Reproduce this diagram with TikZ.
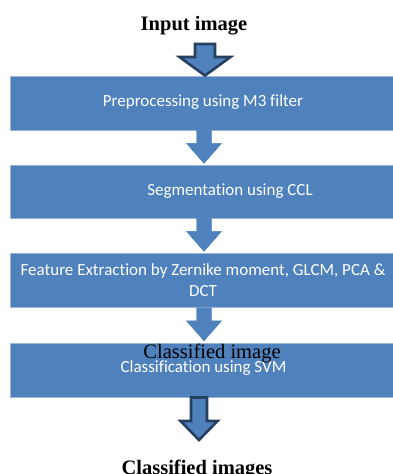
\documentclass[tikz,border=0pt]{standalone}
\usepackage{fontspec}
\setmainfont{Liberation Serif}
\newfontfamily\boxfont[Ligatures={NoCommon}]{Carlito}
\usetikzlibrary{calc}
\definecolor{boxblue}{HTML}{4F81BD}
\definecolor{edgeblue}{HTML}{9DB6D8}
\definecolor{navy}{HTML}{243F60}
\tikzset{
  stepbox/.style={fill=boxblue, draw=edgeblue, line width=0.8pt, minimum width=383pt, minimum height=54pt, inner sep=0pt},
  boxtext/.style={text=white, font=\boxfont\fontsize{17}{20.5}\selectfont, inner sep=0pt, align=center},
  title/.style={text=black, font=\fontsize{20.5}{24}\selectfont\bfseries, inner sep=0pt},
  plain/.style={text=black, font=\fontsize{20.5}{24}\selectfont, inner sep=0pt},
  flowarrow/.style={fill=boxblue, draw=boxblue, line width=0.4pt},
  outarrow/.style={fill=boxblue, draw=navy, line width=2.6pt, line join=miter},
}
\begin{document}
\begin{tikzpicture}[x=1pt,y=-1pt]
\useasboundingbox (0,0) rectangle (393,474);
% boxes
\node[stepbox] (b1) at (201.5,103) {};
\node[stepbox, minimum height=53pt] (b2) at (201.5,191.5) {};
\node[stepbox] (b3) at (201.5,280.5) {};
\node[stepbox] (b4) at (201.5,370) {};
% box texts
\node[boxtext] (t1) at (203,102) {Preprocessing using M3 filter};
\node[boxtext] (t2) at (230,191) {Segmentation using CCL};
\node[boxtext] (t3) at (203,280) {Feature Extraction by Zernike moment, GLCM, PCA \&\\DCT};
\node[boxtext] (t4) at (203.5,368) {Classification using SVM};
% titles
\node[title, anchor=base] (in) at (194,30) {Input image};
\node[plain, anchor=base] (ci) at (212,358) {Classified image};
\node[title, anchor=base] (out) at (197,474) {Classified images};
% top outlined arrow
\coordinate (ta) at (205,44);
\draw[outarrow] ($(ta)+(-10,0)$) -- ($(ta)+(10,0)$) -- ($(ta)+(10,13)$) -- ($(ta)+(25.5,13)$)
  -- (b1.north -| ta) -- ($(ta)+(-25.5,13)$) -- ($(ta)+(-10,13)$) -- cycle;
% flow arrows between boxes
\foreach \a/\b in {b1/b2, b2/b3, b3/b4} {
  \path (\a.south) ++(2.5,0) coordinate (s);
  \draw[flowarrow] ($(s)+(-7.5,0)$) -- ($(s)+(7.5,0)$) -- ($(s)+(7.5,13)$) -- ($(s)+(17.5,13)$)
    -- ($(s)+(0,33)$) -- ($(s)+(-17.5,13)$) -- ($(s)+(-7.5,13)$) -- cycle;
}
% bottom outlined arrow
\coordinate (ba) at (199,397.5);
\draw[outarrow] ($(ba)+(-8,0)$) -- ($(ba)+(8,0)$) -- ($(ba)+(8,23.5)$) -- ($(ba)+(18.5,23.5)$)
  -- ($(ba)+(0,42.5)$) -- ($(ba)+(-18.5,23.5)$) -- ($(ba)+(-8,23.5)$) -- cycle;
\end{tikzpicture}
\end{document}
